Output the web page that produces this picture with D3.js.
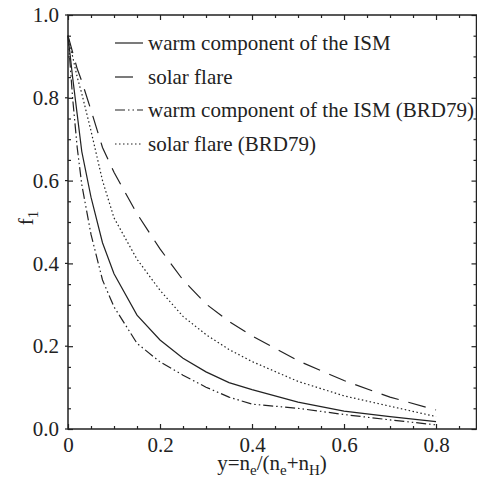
<!DOCTYPE html>
<html><head><meta charset="utf-8">
<script src="https://cdn.jsdelivr.net/npm/d3@7"></script>
<style>body{margin:0;background:#fff;}</style></head>
<body><svg id="c" width="477" height="479"></svg>
<script>
const xs = [0, 0.01, 0.02, 0.03, 0.05, 0.075, 0.1, 0.15, 0.2, 0.25, 0.3, 0.35, 0.4, 0.5, 0.6, 0.7, 0.8];
const warmISM      = [0.95, 0.85, 0.76, 0.67, 0.56, 0.45, 0.375, 0.275, 0.215, 0.171, 0.138, 0.112, 0.095, 0.065, 0.043, 0.030, 0.018];
const solarFlare   = [0.95, 0.91, 0.87, 0.84, 0.77, 0.68, 0.62, 0.52, 0.435, 0.36, 0.302, 0.26, 0.225, 0.165, 0.117, 0.077, 0.046];
const warmISMBRD   = [0.95, 0.80, 0.68, 0.59, 0.47, 0.36, 0.295, 0.207, 0.162, 0.13, 0.101, 0.077, 0.06, 0.05, 0.035, 0.022, 0.01];
const solarFlareBRD= [0.95, 0.90, 0.85, 0.81, 0.72, 0.60, 0.51, 0.41, 0.335, 0.272, 0.228, 0.192, 0.163, 0.115, 0.08, 0.055, 0.03];
const seriesNames = ["warm component of the ISM", "solar flare", "warm component of the ISM (BRD79)", "solar flare (BRD79)"];
const seriesValues = [warmISM, solarFlare, warmISMBRD, solarFlareBRD];
const dashes = [null, "18,10", "10,3,1.5,3,1.5,3", "1.5,2.5"];
const xTicks = [0, 0.2, 0.4, 0.6, 0.8];
const xTickLabels = ["0", "0.2", "0.4", "0.6", "0.8"];
const yTicks = [0, 0.2, 0.4, 0.6, 0.8, 1.0];
const yTickLabels = ["0.0", "0.2", "0.4", "0.6", "0.8", "1.0"];

const FONT = "Liberation Serif";
const svg = d3.select("#c");
const L = 68, R = 476.5, T = 15, B = 429;
const x = d3.scaleLinear().domain([0, 0.888]).range([L, R]);
const y = d3.scaleLinear().domain([0, 1]).range([B, T]);
const minorX = d3.range(0, 0.89, 0.05).filter(v => !xTicks.some(t => Math.abs(t - v) < 1e-6));
const minorY = d3.range(0, 1.001, 0.05).filter(v => !yTicks.some(t => Math.abs(t - v) < 1e-6));
const col = "#222";

function styleAxis(g){
  g.attr("font-family", FONT);
  g.select(".domain").remove();
  g.selectAll("line").attr("stroke", col).attr("stroke-width", 1.2);
  g.selectAll("text").attr("font-size", 21).attr("font-family", FONT).attr("fill", col);
}

// bottom
svg.append("g").attr("transform", `translate(0,${B})`)
  .call(d3.axisBottom(x).tickValues(xTicks).tickSize(-5).tickPadding(8).tickFormat((d,i)=>xTickLabels[i]))
  .call(styleAxis);
svg.append("g").attr("transform", `translate(0,${B})`)
  .call(d3.axisBottom(x).tickValues(minorX).tickSize(-3).tickFormat("")).call(styleAxis);
// top
svg.append("g").attr("transform", `translate(0,${T})`)
  .call(d3.axisTop(x).tickValues(xTicks).tickSize(-5).tickFormat("")).call(styleAxis);
svg.append("g").attr("transform", `translate(0,${T})`)
  .call(d3.axisTop(x).tickValues(minorX).tickSize(-3).tickFormat("")).call(styleAxis);
// left
svg.append("g").attr("transform", `translate(${L},0)`)
  .call(d3.axisLeft(y).tickValues(yTicks).tickSize(-5).tickPadding(9).tickFormat((d,i)=>yTickLabels[i]))
  .call(styleAxis);
svg.append("g").attr("transform", `translate(${L},0)`)
  .call(d3.axisLeft(y).tickValues(minorY).tickSize(-3).tickFormat("")).call(styleAxis);
// right
svg.append("g").attr("transform", `translate(${R},0)`)
  .call(d3.axisRight(y).tickValues(yTicks).tickSize(-5).tickFormat("")).call(styleAxis);
svg.append("g").attr("transform", `translate(${R},0)`)
  .call(d3.axisRight(y).tickValues(minorY).tickSize(-3).tickFormat("")).call(styleAxis);
// outer tick stubs on left axis
svg.append("g").selectAll("line").data(yTicks).join("line")
  .attr("x1", L-3).attr("x2", L).attr("y1", d=>y(d)).attr("y2", d=>y(d)).attr("stroke", col).attr("stroke-width",1.2);

// frame
svg.append("rect").attr("x", L).attr("y", T).attr("width", R-L).attr("height", B-T)
  .attr("fill","none").attr("stroke", col).attr("stroke-width", 1.5);

// curves
const line = d3.line().x((d,i)=>x(xs[i])).y(d=>y(d));
seriesValues.forEach((vals, k) => {
  svg.append("path").datum(vals).attr("d", line).attr("fill","none")
    .attr("stroke", col).attr("stroke-width", 1.2)
    .attr("stroke-dasharray", dashes[k]);
});

// legend
const legY = [43, 77, 110, 144];
seriesNames.forEach((name, k) => {
  svg.append("line").attr("x1", 115).attr("x2", 143).attr("y1", legY[k]).attr("y2", legY[k])
    .attr("stroke", col).attr("stroke-width", 1.2).attr("stroke-dasharray", dashes[k]);
  svg.append("text").attr("x", 148).attr("y", legY[k]).attr("dy", "0.33em")
    .attr("font-size", 21).attr("font-family", FONT).attr("fill", col).text(name);
});

// axis titles
const xt = svg.append("text").attr("x", 272).attr("y", 470).attr("text-anchor","middle")
  .attr("font-size",21).attr("font-family", FONT).attr("fill", col);
xt.append("tspan").text("y=n");
xt.append("tspan").attr("dy",5).attr("font-size",15).text("e");
xt.append("tspan").attr("dy",-5).text("/(n");
xt.append("tspan").attr("dy",5).attr("font-size",15).text("e");
xt.append("tspan").attr("dy",-5).text("+n");
xt.append("tspan").attr("dy",5).attr("font-size",15).text("H");
xt.append("tspan").attr("dy",-5).text(")");

const yt = svg.append("text").attr("transform","translate(33,218) rotate(-90)").attr("text-anchor","middle")
  .attr("font-size",21).attr("font-family", FONT).attr("fill", col);
yt.append("tspan").text("f");
yt.append("tspan").attr("dy",5).attr("font-size",15).text("1");
</script></body></html>
